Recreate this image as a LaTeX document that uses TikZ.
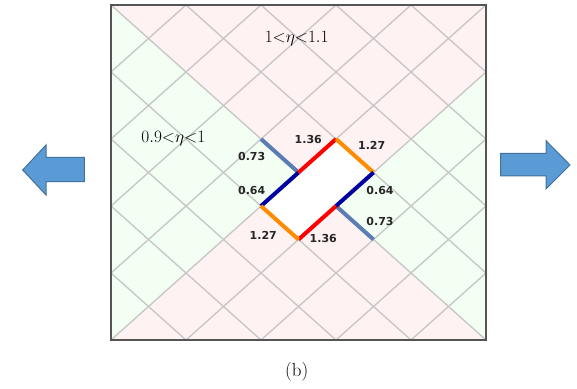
\documentclass[tikz,border=0pt]{standalone}
\usepackage{fontspec}
\usepackage{tikz}
\usetikzlibrary{positioning,calc}
\newfontfamily\labelfont{DejaVu Sans}
\definecolor{PaleRed}{RGB}{255,242,242}
\definecolor{PaleGreen}{RGB}{242,255,242}
\definecolor{GridGray}{RGB}{200,200,200}
\definecolor{FrameGray}{RGB}{85,85,85}
\definecolor{EdgeRed}{RGB}{255,0,0}
\definecolor{EdgeOrange}{RGB}{255,140,0}
\definecolor{EdgeBlue}{RGB}{0,0,160}
\definecolor{StubBlue}{RGB}{92,125,180}
\definecolor{ArrowFill}{RGB}{91,155,213}
\definecolor{ArrowLine}{RGB}{65,113,156}
\tikzset{
  gridline/.style={GridGray, line width=1.4pt},
  edge/.style={line width=4pt},
  vallabel/.style={font=\labelfont\bfseries\fontsize{11}{13}\selectfont, text=black!85},
  zonelabel/.style={font=\fontsize{18}{21}\selectfont},
  bigarrow/.style={fill=ArrowFill, draw=ArrowLine, line width=1pt}
}

\begin{document}
\begin{tikzpicture}[x=1pt,y=1pt]
  \useasboundingbox (0,0) rectangle (577,388);

  \begin{scope}[shift={(111,48)}, x=37.5pt, y=33.5pt]
    % Background zones
    \fill[PaleRed] (0,0) rectangle (10,10);
    \fill[PaleGreen] (0,0) -- (0,10) -- (5,5) -- (4,4) -- cycle;
    \fill[PaleGreen] (6,4) -- (10,0) -- (10,8) -- (7,5) -- cycle;

    % Diagonal grid
    \begin{scope}
      \clip (0,0) rectangle (10,10);
      \foreach \k in {-10,-8,...,10} {
        \draw[gridline] (\k,0) -- ++(10,10);
      }
      \foreach \k in {0,2,...,20} {
        \draw[gridline] (\k,0) -- ++(-10,10);
      }
    \end{scope}

    % Crack corners
    \coordinate (L) at (4,4);
    \coordinate (T) at (6,6);
    \coordinate (R) at (7,5);
    \coordinate (B) at (5,3);
    \coordinate (ML) at (5,5);
    \coordinate (MR) at (6,4);
    \coordinate (S1) at (4,6);
    \coordinate (S2) at (7,3);
    \fill[white] (L) -- (T) -- (R) -- (B) -- cycle;

    % Coloured sides
    \draw[edge, StubBlue] (S1) -- (ML);
    \draw[edge, StubBlue] (MR) -- (S2);
    \draw[edge, EdgeBlue] (L) -- (ML);
    \draw[edge, EdgeRed] (ML) -- (T);
    \draw[edge, EdgeOrange] (T) -- (R);
    \draw[edge, EdgeBlue] (R) -- (MR);
    \draw[edge, EdgeRed] (MR) -- (B);
    \draw[edge, EdgeOrange] (B) -- (L);

    \draw[FrameGray, line width=1.5pt] (0,0) rectangle (10,10);
  \end{scope}

  % Zone labels
  \node[zonelabel] (zoneHigh) at (296.7, 349.7) {$1{<}\eta{<}1.1$};
  \node[zonelabel] (zoneLow) at (173.3, 249.7) {$0.9{<}\eta{<}1$};

  % Values on the sides
  \node[vallabel] (stubL) at (251.7, 231.3) {0.73};
  \node[vallabel] (redT) at (308.3, 248.7) {1.36};
  \node[vallabel] (orgT) at (371.7, 243) {1.27};
  \node[vallabel] (blueL) at (251.7, 198) {0.64};
  \node[vallabel] (blueR) at (380, 198) {0.64};
  \node[vallabel] (stubR) at (380, 166.3) {0.73};
  \node[vallabel] (orgB) at (263.3, 153) {1.27};
  \node[vallabel] (redB) at (323.3, 149.7) {1.36};

  % Side arrows
  \draw[bigarrow] (22.7,218) -- (46,243) -- (46,230.7) -- (84.3,230.7)
    -- (84.3,206.3) -- (46,206.3) -- (46,193) -- cycle;
  \draw[bigarrow] (570,223) -- (546,247.3) -- (546,234.7) -- (500.7,234.7)
    -- (500.7,212) -- (546,212) -- (546,199) -- cycle;

  \node[font=\fontsize{19}{22}\selectfont] (caption) at (296.7, 16.3) {(b)};
\end{tikzpicture}
\end{document}
